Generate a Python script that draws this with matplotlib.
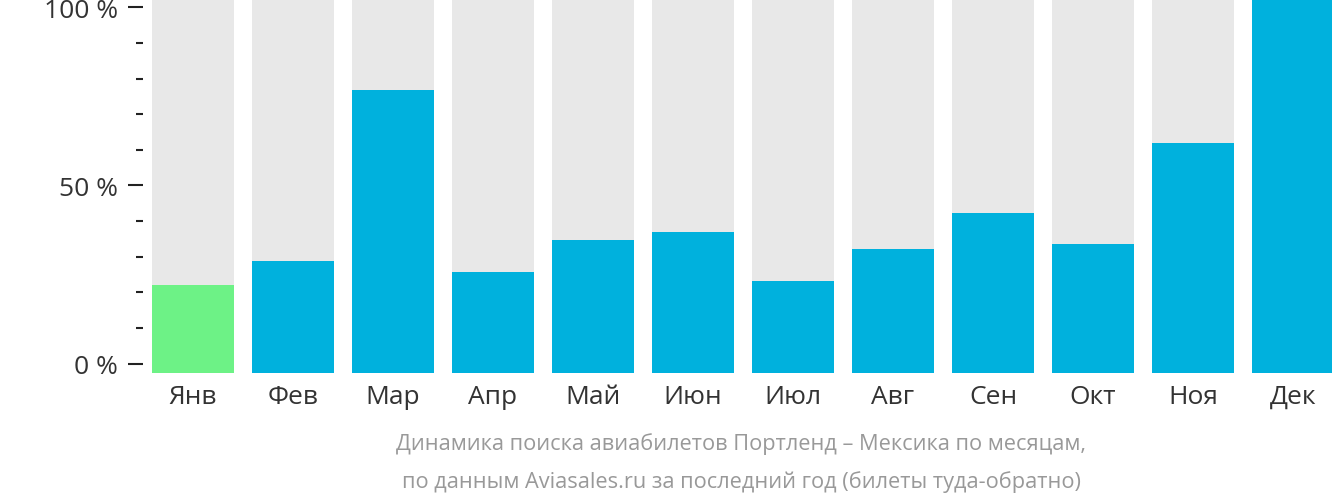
import numpy as np
import matplotlib
matplotlib.use("Agg")
import matplotlib.pyplot as plt
from matplotlib.ticker import MultipleLocator, FixedLocator

months = ["Янв", "Фев", "Мар", "Апр", "Май", "Июн",
          "Июл", "Авг", "Сен", "Окт", "Ноя", "Дек"]
values = [23.5, 29.9, 75.7, 27.0, 35.6, 37.7, 24.6, 33.2, 42.8, 34.5, 61.5, 100]
highlight = 0  # cheapest month
y_ticks = [0, 50, 100]
y_labels = ["0 %", "50 %", "100 %"]
caption = ("Динамика поиска авиабилетов Портленд – Мексика по месяцам,\n"
           "по данным Aviasales.ru за последний год (билеты туда-обратно)")

plt.rcParams["font.family"] = ["Open Sans", "DejaVu Sans"]

W, H = 1332, 502
fig = plt.figure(figsize=(W / 100, H / 100), dpi=100)

# bars axes: x 152..1334, y 0..374 (px)
ax = fig.add_axes([152 / W, (H - 374) / H, 1182 / W, 374 / H])
x = np.arange(len(months))
ax.bar(x, [100] * len(months), width=0.82, color="#e8e8e8", zorder=1)
colors = ["#6df286" if i == highlight else "#00b1dd" for i in range(len(months))]
ax.bar(x, values, width=0.82, color=colors, zorder=2)
ax.set_xlim(-0.41, 11.41)
ax.set_ylim(0, 100)
ax.set_xticks(x)
ax.set_xticklabels(months, fontsize=19, color="#333333")
ax.tick_params(axis="x", length=0, pad=8)
ax.set_yticks([])
for s in ax.spines.values():
    s.set_visible(False)

# y scale axes: 0 % at y=364.5, 100 % at y=8.3
y0, y1 = 364.5, 8.3
ay = fig.add_axes([143 / W, (H - y0) / H, 0.001, (y0 - y1) / H])
ay.set_ylim(0, 100)
ay.yaxis.set_major_locator(FixedLocator(y_ticks))
ay.set_yticklabels(y_labels, fontsize=19, color="#333333")
ay.yaxis.set_minor_locator(MultipleLocator(10))
ay.tick_params(axis="y", which="major", length=11, width=1.5, color="#222222", pad=7)
ay.tick_params(axis="y", which="minor", length=5, width=1.5, color="#222222")
ay.set_xticks([])
ay.patch.set_visible(False)
for s in ay.spines.values():
    s.set_visible(False)

fig.text(741 / W, 1 - 463 / H, caption, ha="center", va="center",
         fontsize=15.7, color="#999999", linespacing=1.98)

fig.savefig("out.png", dpi=100)
